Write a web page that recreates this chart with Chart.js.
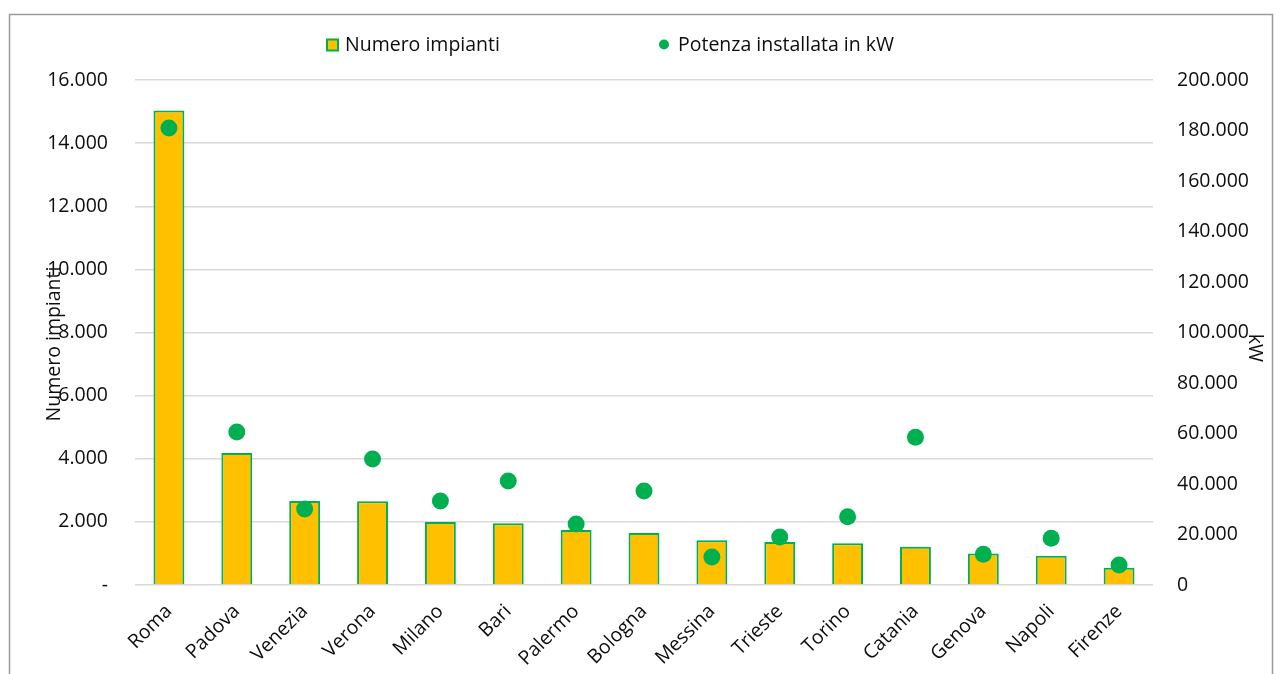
<!DOCTYPE html>
<html>
<head>
<meta charset="utf-8">
<script src="https://cdn.jsdelivr.net/npm/chart.js@4.4.1/dist/chart.umd.min.js"></script>
<style>
  html, body { margin: 0; padding: 0; background: #fff; overflow: hidden; }
  #wrap { position: relative; width: 1282px; height: 674px; }
</style>
</head>
<body>
<div id="wrap"><canvas id="c" width="1282" height="674"></canvas></div>
<script>
// Cities and values
const cities = ['Roma', 'Padova', 'Venezia', 'Verona', 'Milano', 'Bari', 'Palermo', 'Bologna',
                'Messina', 'Trieste', 'Torino', 'Catania', 'Genova', 'Napoli', 'Firenze'];
const numeroImpianti = [15030, 4180, 2660, 2650, 2000, 1960, 1740, 1650, 1420, 1360, 1320, 1210, 1000, 930, 550];
const potenzaKW = [181000, 60600, 30100, 49900, 33300, 41200, 24200, 37200, 11100, 19000, 27000, 58500, 12200, 18500, 7900];

// Axis tick labels (bottom to top)
const leftTickLabels = ['-', '2.000', '4.000', '6.000', '8.000', '10.000', '12.000', '14.000', '16.000'];
const rightTickLabels = ['0', '20.000', '40.000', '60.000', '80.000', '100.000', '120.000', '140.000', '160.000', '180.000', '200.000'];

const seriesNames = ['Numero impianti', 'Potenza installata in kW'];
const leftTitle = 'Numero impianti';
const rightTitle = 'kW';

const FONT = '"Open Sans", sans-serif';
const FONT_SIZE = 19.5;
const TEXT = '#0d0d0d';
const BAR_FILL = '#FFC000';
const GREEN = '#00B050';
const GRID = '#d9d9d9';

// Frame, legend and axis titles
const decor = {
  id: 'decor',
  beforeDraw(chart) {
    const ctx = chart.ctx;
    ctx.save();
    ctx.strokeStyle = '#9a9a9a';
    ctx.lineWidth = 1.5;
    ctx.beginPath();
    ctx.moveTo(9.5, chart.height + 2);
    ctx.lineTo(9.5, 14.5);
    ctx.lineTo(1272.5, 14.5);
    ctx.lineTo(1272.5, chart.height + 2);
    ctx.stroke();
    ctx.restore();
  },
  afterDraw(chart) {
    const ctx = chart.ctx;
    ctx.save();
    ctx.font = FONT_SIZE + 'px ' + FONT;
    ctx.fillStyle = TEXT;
    ctx.textBaseline = 'middle';

    // legend
    const ly = 45;
    ctx.fillStyle = BAR_FILL;
    ctx.fillRect(327, ly - 5.5, 11, 11);
    ctx.strokeStyle = GREEN;
    ctx.lineWidth = 2;
    ctx.strokeRect(327, ly - 5.5, 11, 11);
    ctx.fillStyle = TEXT;
    ctx.textAlign = 'left';
    ctx.fillText(seriesNames[0], 345, ly);
    ctx.fillStyle = GREEN;
    ctx.beginPath();
    ctx.arc(664, ly - 0.5, 5, 0, Math.PI * 2);
    ctx.fill();
    ctx.fillStyle = TEXT;
    ctx.fillText(seriesNames[1], 678, ly);

    // axis titles
    ctx.textAlign = 'center';
    ctx.save();
    ctx.translate(54.5, 344);
    ctx.rotate(-Math.PI / 2);
    ctx.fillText(leftTitle, 0, 0);
    ctx.restore();
    ctx.save();
    ctx.translate(1255, 348);
    ctx.rotate(Math.PI / 2);
    ctx.fillText(rightTitle, 0, 0);
    ctx.restore();
    ctx.restore();
  }
};

new Chart(document.getElementById('c'), {
  data: {
    labels: cities,
    datasets: [
      {
        type: 'line',
        label: seriesNames[1],
        data: potenzaKW,
        yAxisID: 'y2',
        showLine: false,
        pointRadius: 8.5,
        pointHoverRadius: 8.5,
        pointBackgroundColor: GREEN,
        pointBorderWidth: 0,
        order: 0
      },
      {
        type: 'bar',
        label: seriesNames[0],
        data: numeroImpianti,
        yAxisID: 'y',
        backgroundColor: BAR_FILL,
        borderColor: GREEN,
        borderWidth: 2,
        barPercentage: 0.455,
        categoryPercentage: 1,
        order: 1
      }
    ]
  },
  options: {
    responsive: false,
    animation: false,
    devicePixelRatio: 1,
    layout: { padding: { top: 80, left: 0, right: 0, bottom: 0 } },
    plugins: {
      legend: { display: false },
      tooltip: { enabled: false }
    },
    scales: {
      x: {
        afterFit(s) { s.height = 89; },
        grid: { display: false, drawTicks: false },
        border: { display: false },
        ticks: {
          autoSkip: false,
          minRotation: 45,
          maxRotation: 45,
          padding: 15,
          labelOffset: 0,
          color: TEXT,
          font: { family: FONT, size: FONT_SIZE }
        }
      },
      y: {
        position: 'left',
        min: 0,
        max: 16000,
        afterFit(s) { s.width = 135; },
        grid: { color: GRID, lineWidth: 1.5, drawTicks: false },
        border: { display: false },
        ticks: {
          stepSize: 2000,
          padding: 27,
          color: TEXT,
          font: { family: FONT, size: FONT_SIZE },
          callback: (v, i) => leftTickLabels[i]
        }
      },
      y2: {
        position: 'right',
        min: 0,
        max: 200000,
        afterFit(s) { s.width = 129; },
        grid: { display: false, drawTicks: false },
        border: { display: false },
        ticks: {
          stepSize: 20000,
          padding: 24,
          color: TEXT,
          font: { family: FONT, size: FONT_SIZE },
          callback: (v, i) => rightTickLabels[i]
        }
      }
    }
  },
  plugins: [decor]
});
</script>
</body>
</html>
